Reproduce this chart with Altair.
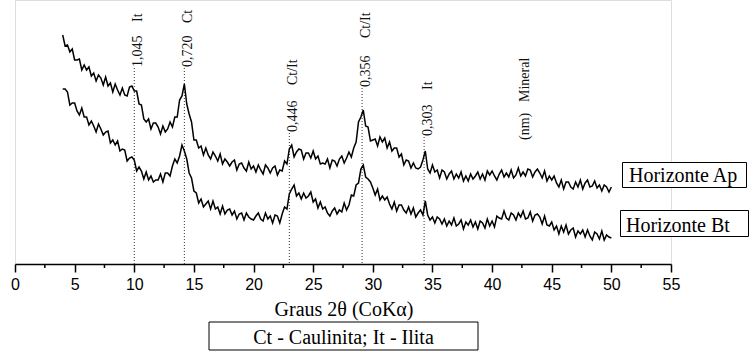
import altair as alt
import pandas as pd

# 2theta grid of the diffractograms (degrees, CoKa), step 0.2 from 4 to 50
theta_start = 4.0
theta_step = 0.2

# Horizonte Ap (upper trace) relative intensity
ap_counts = [
    229, 218, 219, 212, 215, 204, 204, 205, 194, 199,
    194, 197, 188, 191, 183, 189, 186, 179, 187, 178,
    181, 172, 180, 174, 169, 176, 169, 168, 177, 178,
    173, 173, 160, 159, 145, 142, 145, 135, 141, 141,
    137, 130, 138, 132, 135, 142, 137, 147, 147, 164,
    168, 180, 160, 150, 142, 124, 124, 116, 118, 109,
    116, 109, 105, 112, 108, 103, 110, 100, 105, 102,
    98, 102, 104, 94, 100, 101, 96, 93, 102, 95,
    98, 92, 99, 94, 90, 99, 96, 91, 96, 98,
    89, 94, 93, 103, 100, 115, 119, 107, 112, 115,
    114, 105, 111, 111, 106, 113, 105, 108, 100, 101,
    100, 105, 96, 104, 103, 98, 105, 108, 101, 106,
    112, 107, 116, 122, 142, 147, 154, 138, 137, 123,
    124, 125, 118, 127, 122, 126, 116, 122, 113, 116,
    116, 107, 110, 99, 104, 103, 96, 101, 96, 95,
    97, 104, 113, 95, 91, 99, 92, 94, 86, 94,
    92, 85, 90, 93, 85, 90, 86, 92, 83, 88,
    83, 90, 85, 88, 92, 85, 90, 84, 93, 89,
    93, 88, 84, 90, 94, 87, 91, 87, 94, 86,
    89, 96, 88, 92, 88, 95, 94, 87, 92, 95,
    91, 86, 93, 83, 88, 84, 88, 81, 77, 84,
    75, 82, 82, 77, 75, 82, 77, 84, 75, 81,
    84, 77, 78, 83, 76, 79, 73, 79, 77, 72,
    77,
]

# Horizonte Bt (lower trace)
bt_counts = [
    175, 175, 172, 159, 161, 161, 153, 149, 156, 147,
    147, 139, 143, 138, 132, 140, 135, 129, 132, 133,
    121, 124, 119, 123, 113, 115, 114, 103, 106, 107,
    104, 93, 97, 93, 85, 92, 84, 88, 82, 84,
    84, 90, 82, 91, 91, 88, 98, 105, 101, 108,
    119, 113, 105, 91, 86, 73, 71, 61, 65, 57,
    60, 63, 55, 63, 55, 57, 50, 58, 50, 54,
    55, 49, 53, 45, 50, 51, 44, 51, 47, 45,
    44, 48, 51, 45, 43, 51, 45, 48, 41, 49,
    48, 41, 50, 57, 55, 70, 75, 79, 68, 71,
    65, 71, 66, 68, 72, 62, 65, 56, 62, 55,
    57, 51, 48, 53, 56, 50, 54, 52, 61, 54,
    59, 69, 68, 79, 81, 95, 99, 87, 85, 82,
    76, 69, 75, 64, 68, 64, 67, 60, 55, 62,
    53, 59, 59, 54, 51, 57, 50, 56, 47, 51,
    54, 49, 63, 49, 44, 47, 41, 47, 45, 40,
    45, 38, 43, 39, 46, 38, 40, 44, 35, 42,
    39, 44, 37, 42, 35, 43, 41, 36, 45, 38,
    43, 37, 48, 46, 45, 53, 46, 44, 51, 49,
    44, 51, 47, 53, 45, 46, 52, 43, 49, 50,
    47, 40, 48, 39, 38, 42, 34, 38, 30, 38,
    32, 39, 30, 34, 36, 27, 33, 30, 34, 27,
    34, 28, 24, 32, 30, 25, 33, 24, 29, 27,
    26,
]

# Identified reflections
peak_theta = [10.0, 14.2, 23.0, 29.1, 34.3]
peak_d = ["1,045", "0,720", "0,446", "0,356", "0,303"]
peak_mineral = ["It", "Ct", "Ct/It", "Ct/It", "It"]
peak_line_top = [196, 196, 131, 176, 127]
peak_mineral_at = [242, 241, 179, 226, 174]

header_theta = [42.75, 42.75]
header_text = ["(nm)", "Mineral"]
header_at = [124, 162]

major_ticks = list(range(0, 56, 5))
minor_ticks = [2.5, 7.5, 12.5, 17.5, 22.5, 27.5, 32.5, 37.5, 42.5, 47.5, 52.5]

x_title = "Graus 2θ (CoKα)"
caption = "Ct - Caulinita; It - Ilita"
sample_names = ["Horizonte Ap", "Horizonte Bt"]

# ---------------------------------------------------------------
theta = [round(theta_start + theta_step * i, 1) for i in range(len(ap_counts))]
traces = pd.DataFrame({
    "theta": theta * 2,
    "h": ap_counts + bt_counts,
    "sample": [sample_names[0]] * len(ap_counts) + [sample_names[1]] * len(bt_counts),
})
peaks = pd.DataFrame({
    "theta": peak_theta, "d": peak_d, "mineral": peak_mineral,
    "top": peak_line_top, "dlab": [t + 1 for t in peak_line_top],
    "mlab": peak_mineral_at,
})
headers = pd.DataFrame({"theta": header_theta, "text": header_text, "h": header_at})
minor = pd.DataFrame({"theta": minor_ticks})
one = pd.DataFrame({"a": [0]})

W, H = 656, 264
xscale = alt.Scale(domain=[0, 55], nice=False, zero=False)
yscale = alt.Scale(domain=[0, 264], nice=False, zero=False)
xaxis = alt.Axis(values=major_ticks, title=None, grid=False, tickSize=8,
                 tickWidth=1.5, tickColor="black", domainColor="black",
                 domainWidth=1.5, labelFont="Liberation Sans", labelFontSize=16,
                 labelColor="black", labelPadding=4, labelFlush=False)

def X(field="theta"):
    return alt.X(f"{field}:Q", scale=xscale, axis=xaxis)

serif = "Liberation Serif"

rules = alt.Chart(peaks).mark_rule(strokeDash=[1, 2], strokeWidth=1, color="#333").encode(
    x=X(), y=alt.Y("top:Q", scale=yscale, axis=None), y2=alt.value(H))

lines = alt.Chart(traces).mark_line(color="black", strokeWidth=1.5).encode(
    x=X(), y=alt.Y("h:Q", scale=yscale, axis=None), detail="sample:N")

dlabels = alt.Chart(peaks).mark_text(angle=270, align="left", baseline="middle", dy=4,
                                     font=serif, fontSize=14, color="#111").encode(
    x=X(), y=alt.Y("dlab:Q", scale=yscale, axis=None), text="d:N")

mlabels = alt.Chart(peaks).mark_text(angle=270, align="left", baseline="middle", dy=4,
                                     font=serif, fontSize=14, color="#111").encode(
    x=X(), y=alt.Y("mlab:Q", scale=yscale, axis=None), text="mineral:N")

hlabels = alt.Chart(headers).mark_text(angle=270, align="left", baseline="middle",
                                       font=serif, fontSize=14, color="#111").encode(
    x=X(), y=alt.Y("h:Q", scale=yscale, axis=None), text="text:N")

minor_rule = alt.Chart(minor).mark_rule(color="black", strokeWidth=1.5).encode(
    x=X(), y=alt.value(H), y2=alt.value(H + 4))

title_txt = alt.Chart(one).mark_text(font=serif, fontSize=20, align="center",
                                     baseline="alphabetic", color="black").encode(
    x=alt.value(329), y=alt.value(316), text=alt.value(x_title))

def box(x1, x2, y1, y2):
    return alt.Chart(one).mark_rect(fill="white", stroke="black", strokeWidth=1).encode(
        x=alt.value(x1), x2=alt.value(x2), y=alt.value(y1), y2=alt.value(y2))

def label(x, y, txt, align="left"):
    return alt.Chart(one).mark_text(font=serif, fontSize=20, align=align,
                                    baseline="alphabetic", color="black").encode(
        x=alt.value(x), y=alt.value(y), text=alt.value(txt))

cap_box = box(194, 463, 322, 350)
cap_txt = label(328.5, 344, caption, align="center")
ap_box = box(607.5, 731.5, 162.5, 187.5)
ap_txt = label(614, 181.5, sample_names[0])
bt_box = box(605.5, 733.5, 210.5, 236.5)
bt_txt = label(611, 231.5, sample_names[1])

chart = alt.layer(
    rules, lines, dlabels, mlabels, hlabels, minor_rule, title_txt,
    cap_box, cap_txt, ap_box, ap_txt, bt_box, bt_txt,
).properties(
    width=W, height=H,
    autosize=alt.AutoSizeParams(type="none"),
    padding={"left": 15, "top": 0, "right": 81, "bottom": 87},
).configure_view(stroke=None).configure(background="white")

chart.save("out.html", embed_options={"renderer": "svg", "actions": False})
